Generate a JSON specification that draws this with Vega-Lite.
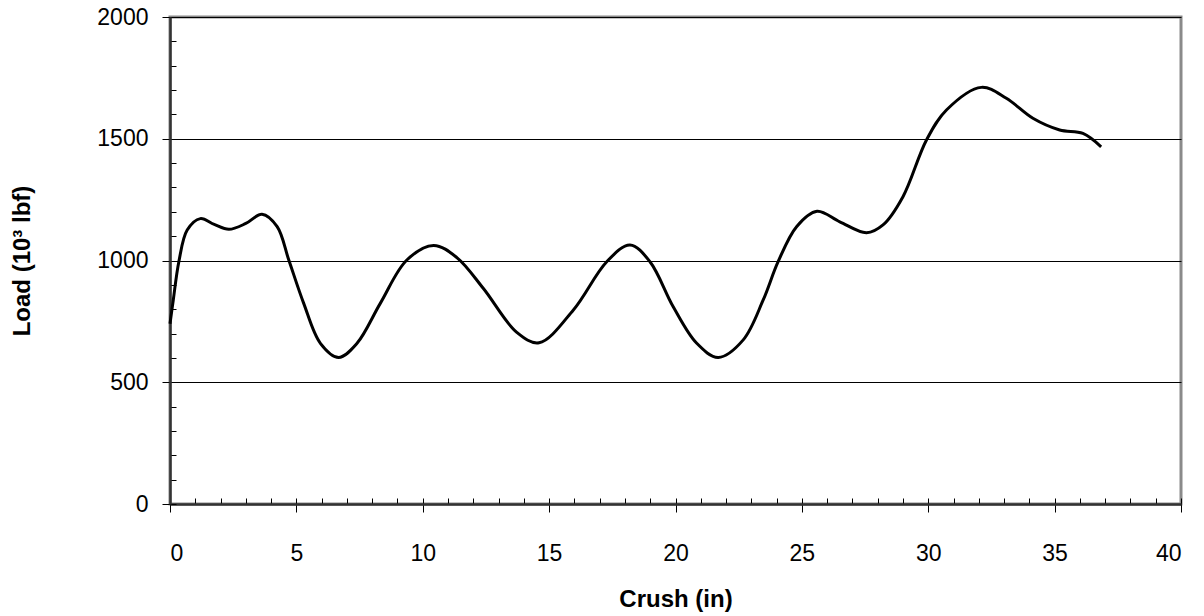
{
  "$schema": "https://vega.github.io/schema/vega-lite/v6.json",
  "autosize": {"type": "none"},
  "padding": {"left": 170, "top": 17, "right": 23, "bottom": 112},
  "width": 1011,
  "height": 487,
  "background": "white",
  "config": {
    "view": {"stroke": "#8a8a8a", "strokeWidth": 3},
    "font": "Liberation Sans",
    "axis": {
      "labelFont": "Liberation Sans",
      "titleFont": "Liberation Sans",
      "labelColor": "#000000",
      "titleColor": "#000000",
      "labelFontSize": 23,
      "titleFontSize": 24,
      "titleFontWeight": "bold",
      "tickColor": "#000000",
      "domainColor": "#333333",
      "domainWidth": 2.5
    }
  },
  "data": {
    "values": [
      {"crush": 0, "load": 740},
      {"crush": 0.13, "load": 838},
      {"crush": 0.35, "load": 995},
      {"crush": 0.68, "load": 1125},
      {"crush": 1.2, "load": 1172},
      {"crush": 1.75, "load": 1148},
      {"crush": 2.33, "load": 1128},
      {"crush": 3.0, "load": 1152},
      {"crush": 3.64, "load": 1190},
      {"crush": 4.24, "load": 1139},
      {"crush": 4.7, "load": 1002},
      {"crush": 5.29, "load": 824},
      {"crush": 5.95, "load": 660},
      {"crush": 6.67, "load": 602},
      {"crush": 7.4, "load": 660},
      {"crush": 8.32, "load": 824},
      {"crush": 9.37, "load": 1002},
      {"crush": 10.43, "load": 1062},
      {"crush": 11.35, "load": 1012},
      {"crush": 12.4, "load": 885},
      {"crush": 13.72, "load": 705},
      {"crush": 14.6, "load": 662},
      {"crush": 15.96, "load": 797},
      {"crush": 17.28, "load": 995},
      {"crush": 18.2, "load": 1064},
      {"crush": 18.99, "load": 995},
      {"crush": 19.91, "load": 810},
      {"crush": 20.84, "load": 660},
      {"crush": 21.69, "load": 602},
      {"crush": 22.68, "load": 674},
      {"crush": 23.47, "load": 838},
      {"crush": 24.06, "load": 995},
      {"crush": 24.79, "load": 1139},
      {"crush": 25.6, "load": 1202},
      {"crush": 26.5, "load": 1159},
      {"crush": 27.56, "load": 1114},
      {"crush": 28.21, "load": 1146},
      {"crush": 29.0, "load": 1262},
      {"crush": 29.93, "load": 1495},
      {"crush": 30.72, "load": 1618},
      {"crush": 32.1, "load": 1711},
      {"crush": 33.09, "load": 1666},
      {"crush": 34.14, "load": 1584},
      {"crush": 35.2, "load": 1536},
      {"crush": 36.12, "load": 1522},
      {"crush": 36.84, "load": 1467}
    ]
  },
  "resolve": {"axis": {"x": "independent", "y": "independent"}},
  "layer": [
    {
      "mark": {"type": "point", "opacity": 0},
      "encoding": {
        "x": {
          "field": "crush", "type": "quantitative",
          "scale": {"domain": [0, 40], "nice": false, "zero": false},
          "axis": {
            "orient": "bottom",
            "values": [0,1,2,3,4,5,6,7,8,9,10,11,12,13,14,15,16,17,18,19,20,21,22,23,24,25,26,27,28,29,30,31,32,33,34,35,36,37,38,39,40],
            "tickSize": -6, "tickWidth": 1, "labels": false, "domain": false, "grid": false, "title": null
          }
        },
        "y": {
          "field": "load", "type": "quantitative",
          "scale": {"domain": [0, 2000], "nice": false},
          "axis": {
            "orient": "left",
            "values": [0,100,200,300,400,500,600,700,800,900,1000,1100,1200,1300,1400,1500,1600,1700,1800,1900,2000],
            "tickSize": -6, "tickWidth": 1, "labels": false, "domain": false, "grid": false, "title": null
          }
        }
      }
    },
    {
      "mark": {"type": "line", "color": "#000000", "strokeWidth": 3, "interpolate": "catmull-rom"},
      "encoding": {
        "x": {
          "field": "crush", "type": "quantitative",
          "scale": {"domain": [0, 40], "nice": false, "zero": false},
          "axis": {
            "orient": "bottom",
            "values": [0,5,10,15,20,25,30,35,40],
            "format": "d",
            "tickSize": 8, "tickWidth": 1, "labelPadding": 30, "grid": false,
            "title": "Crush (in)", "titlePadding": 22
          }
        },
        "y": {
          "field": "load", "type": "quantitative",
          "scale": {"domain": [0, 2000], "nice": false},
          "axis": {
            "orient": "left",
            "values": [0, 500, 1000, 1500, 2000],
            "format": "d",
            "tickSize": 8, "tickWidth": 1, "labelPadding": 14,
            "grid": true, "gridColor": "#000000", "gridWidth": 1, "gridOpacity": 1,
            "title": "Load (10³ lbf)", "titlePadding": 62
          }
        }
      }
    }
  ]
}
